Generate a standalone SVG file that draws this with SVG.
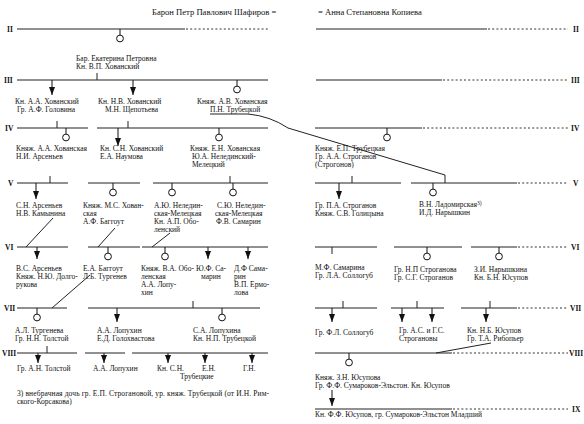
<svg xmlns="http://www.w3.org/2000/svg" xmlns:xlink="http://www.w3.org/1999/xlink" width="584" height="424" viewBox="0 0 584 424">
<style>
text{font-family:"Liberation Serif","DejaVu Serif",serif;font-size:7.5px;fill:#111}
.t{font-size:8.6px}
.g{font-weight:bold;font-size:7.5px}
.s{stroke:#222;stroke-width:1;fill:none}
.d{stroke:#333;stroke-width:1;fill:none;stroke-dasharray:2 2.2}
.a{stroke:#111;stroke-width:1;fill:none;marker-end:url(#ah)}
.c{stroke:#111;stroke-width:1;fill:#fff}
</style>
<defs>
<marker id="ah" markerUnits="userSpaceOnUse" markerWidth="8" markerHeight="6" refX="8" refY="3" orient="auto"><path d="M0,0 L8,3 L0,6 Z" fill="#111"/></marker>
<g id="ci"><line x1="0" y1="0" x2="0" y2="6" stroke="#111"/><circle cx="0" cy="9.5" r="3.4" class="c"/></g>
</defs>
<rect width="584" height="424" fill="#fff"/>

<g id="title">
<text class="t" x="152" y="15">Барон Петр Павлович Шафиров =</text>
<text class="t" x="318" y="15">= Анна Степановна Копиева</text>
</g>

<g id="gen-labels">
<text class="g" x="7" y="32">II</text><text class="g" x="573" y="32">II</text>
<text class="g" x="4" y="83">III</text><text class="g" x="571" y="83">III</text>
<text class="g" x="5" y="131">IV</text><text class="g" x="571" y="131">IV</text>
<text class="g" x="8" y="186">V</text><text class="g" x="573" y="186">V</text>
<text class="g" x="5" y="250">VI</text><text class="g" x="571" y="250">VI</text>
<text class="g" x="4" y="311">VII</text><text class="g" x="570" y="311">VII</text>
<text class="g" x="2" y="356">VIII</text><text class="g" x="569" y="356">VIII</text>
<text class="g" x="572" y="412">IX</text>
</g>

<g id="connectors">
<!-- II -->
<path class="s" d="M17,29 H185 M316,29 H487"/>
<path class="d" d="M186,29 H268 M488,29 H568"/>
<use xlink:href="#ci" x="120" y="29"/>
<!-- III -->
<path class="s" d="M17,80 H268 M316,80 H442 M97,73 V80"/>
<path class="d" d="M443,80 H568"/>
<line class="a" x1="52" y1="80" x2="52" y2="95"/>
<line class="a" x1="133" y1="80" x2="133" y2="95"/>
<use xlink:href="#ci" x="237" y="80"/>
<!-- IV -->
<path class="s" d="M17,128 H88 M57,121 V128 M97,128 H268 M128,121 V128 M315,128 H422"/>
<path class="d" d="M423,128 H568"/>
<use xlink:href="#ci" x="66" y="128"/>
<line class="a" x1="118" y1="128" x2="118" y2="146"/>
<use xlink:href="#ci" x="219" y="128"/>
<use xlink:href="#ci" x="387" y="128"/>
<path class="s" d="M210,114 H248 Q270,116 288,128 L445,175 V183"/>
<!-- V -->
<path class="s" d="M17,183 H68 M50,176 V183 M88,183 H140 M153,183 H268 M230,176 V183 M315,183 H401 M352,176 V183 M411,183 H517"/>
<path class="d" d="M518,183 H568"/>
<line class="a" x1="36" y1="183" x2="36" y2="199"/>
<use xlink:href="#ci" x="113" y="183"/>
<use xlink:href="#ci" x="172" y="183"/>
<use xlink:href="#ci" x="233" y="183"/>
<line class="a" x1="339" y1="183" x2="339" y2="199"/>
<use xlink:href="#ci" x="433" y="183"/>
<!-- VI -->
<path class="s" d="M17,247 H68 M53,218 L26,247 M88,247 H140 M115,228 L98,247 M142,247 H268 M170,233 L152,247 M315,247 H377 M332,247 V254 M394,247 H462 M471,247 H517"/>
<path class="d" d="M518,247 H568"/>
<line class="a" x1="37" y1="247" x2="37" y2="259"/>
<use xlink:href="#ci" x="108" y="247"/>
<use xlink:href="#ci" x="165" y="247"/>
<line class="a" x1="208" y1="247" x2="208" y2="259"/>
<line class="a" x1="248" y1="247" x2="248" y2="259"/>
<use xlink:href="#ci" x="427" y="247"/>
<use xlink:href="#ci" x="499" y="247"/>
<!-- VII -->
<path class="s" d="M17,308 H67 M90,275 L52,308 M88,308 H260 M193,301 V308 M315,308 H377 M343,301 V308 M391,308 H444 M417,301 V308 M461,308 H517 M490,301 V308"/>
<path class="d" d="M518,308 H568"/>
<use xlink:href="#ci" x="37" y="308"/>
<line class="a" x1="117" y1="308" x2="117" y2="322"/>
<use xlink:href="#ci" x="222" y="308"/>
<line class="a" x1="332" y1="308" x2="332" y2="322"/>
<line class="a" x1="402" y1="308" x2="402" y2="322"/>
<line class="a" x1="432" y1="308" x2="432" y2="322"/>
<line class="a" x1="486" y1="308" x2="486" y2="322"/>
<!-- VIII -->
<path class="s" d="M17,353 H77 M47,346 V353 M85,353 H125 M132,353 H268 M315,353 H452 M491,343 L436,353"/>
<path class="d" d="M453,353 H568"/>
<line class="a" x1="38" y1="353" x2="38" y2="363"/>
<line class="a" x1="104" y1="353" x2="104" y2="363"/>
<line class="a" x1="168" y1="353" x2="168" y2="363"/>
<line class="a" x1="205" y1="353" x2="205" y2="363"/>
<line class="a" x1="252" y1="353" x2="252" y2="363"/>
<use xlink:href="#ci" x="349" y="353"/>
<!-- IX -->
<path class="s" d="M315,409 H452"/>
<path class="d" d="M453,409 H568"/>
<line class="a" x1="332" y1="390" x2="332" y2="406"/>
</g>

<g id="p-ekaterina"><text x="76" y="61">Бар. Екатерина Петровна</text><text x="76" y="69">Кн. В.П. Хованский</text></g>
<g id="p-aa-khovansky"><text x="15" y="104">Кн. А.А. Хованский</text><text x="17" y="112">Гр. А.Ф. Головина</text></g>
<g id="p-nv-khovansky"><text x="98" y="104">Кн. Н.В. Хованский</text><text x="105" y="112">М.Н. Щепотьева</text></g>
<g id="p-av-khovanskaya"><text x="197" y="104">Княж. А.В. Хованская</text><text x="210" y="112">П.Н. Трубецкой</text></g>

<g id="p-aa-khovanskaya"><text x="16" y="151">Княж. А.А. Хованская</text><text x="16" y="159">Н.И. Арсеньев</text></g>
<g id="p-sn-khovansky"><text x="100" y="151">Кн. С.Н. Хованский</text><text x="100" y="159">Е.А. Наумова</text></g>
<g id="p-en-khovanskaya"><text x="190" y="151">Княж. Е.Н. Хованская</text><text x="192" y="159">Ю.А. Нелединский-</text><text x="192" y="167">Мелецкий</text></g>
<g id="p-ep-trubetskaya"><text x="315" y="151">Княж. Е.П. Трубецкая</text><text x="315" y="159">Гр. А.А. Строганов</text><text x="315" y="167">(Строгонов)</text></g>

<g id="p-sn-arsenev"><text x="16" y="208">С.Н. Арсеньев</text><text x="16" y="216">Н.В. Камынина</text></g>
<g id="p-ms-khovanskaya"><text x="83" y="208">Княж. М.С. Хован-</text><text x="83" y="216">ская</text><text x="83" y="224">А.Ф. Баггоут</text></g>
<g id="p-ayu-neledinskaya"><text x="154" y="208">А.Ю. Неледин-</text><text x="154" y="216">ская-Мелецкая</text><text x="154" y="224">Кн. А.П. Обо-</text><text x="154" y="232">ленский</text></g>
<g id="p-syu-neledinskaya"><text x="217" y="208">С.Ю. Неледин-</text><text x="215" y="216">ская-Мелецкая</text><text x="216" y="224">Ф.В. Самарин</text></g>
<g id="p-pa-stroganov"><text x="315" y="208">Гр. П.А. Строганов</text><text x="315" y="216">Княж. С.В. Голицына</text></g>
<g id="p-vn-ladomirskaya"><text x="419" y="207">В.Н. Ладомирская<tspan font-size="5.5px" dy="-2.5">3)</tspan></text><text x="419" y="215">И.Д. Нарышкин</text></g>

<g id="p-vs-arsenev"><text x="16" y="271">В.С. Арсеньев</text><text x="16" y="279">Княж. Н.Ю. Долго-</text><text x="16" y="287">рукова</text></g>
<g id="p-ea-baggout"><text x="83" y="271">Е.А. Баггоут</text><text x="83" y="279">Л.Б. Тургенев</text></g>
<g id="p-va-obolenskaya"><text x="141" y="271">Княж. В.А. Обо-</text><text x="141" y="279">ленская</text><text x="141" y="287">А.А. Лопу-</text><text x="141" y="295">хин</text></g>
<g id="p-yuf-samarin"><text x="196" y="271">Ю.Ф. Са-</text><text x="201" y="279">марин</text></g>
<g id="p-df-samarin"><text x="234" y="271">Д.Ф Сама-</text><text x="234" y="279">рин</text><text x="234" y="287">В.П. Ермо-</text><text x="234" y="295">лова</text></g>
<g id="p-mf-samarina"><text x="315" y="270">М.Ф. Самарина</text><text x="315" y="278">Гр. Л.А. Соллогуб</text></g>
<g id="p-np-stroganova"><text x="394" y="272">Гр. Н.П Строганова</text><text x="394" y="280">Гр. С.Г. Строганов</text></g>
<g id="p-zi-naryshkina"><text x="474" y="272">З.И. Нарышкина</text><text x="474" y="280">Кн. Б.Н. Юсупов</text></g>

<g id="p-al-turgeneva"><text x="15" y="333">А.Л. Тургенева</text><text x="15" y="341">Гр. Н.Н. Толстой</text></g>
<g id="p-aa-lopukhin"><text x="97" y="333">А.А. Лопухин</text><text x="97" y="341">Е.Д. Голохвастова</text></g>
<g id="p-sa-lopukhina"><text x="193" y="333">С.А. Лопухина</text><text x="193" y="341">Кн. Н.П. Трубецкой</text></g>
<g id="p-fl-sollogub"><text x="315" y="335">Гр. Ф.Л. Соллогуб</text></g>
<g id="p-as-gs-stroganovy"><text x="399" y="333">Гр. А.С. и Г.С.</text><text x="399" y="341">Строгановы</text></g>
<g id="p-nb-yusupov"><text x="467" y="333">Кн. Н.Б. Юсупов</text><text x="467" y="341">Гр. Т.А. Рибопьер</text></g>

<g id="p-an-tolstoy"><text x="17" y="371">Гр. А.Н. Толстой</text></g>
<g id="p-aa-lopukhin2"><text x="93" y="371">А.А. Лопухин</text></g>
<g id="p-trubetskie"><text x="157" y="371">Кн. С.Н.</text><text x="202" y="371">Е.Н.</text><text x="243" y="371">Г.Н.</text><text x="180" y="379">Трубецкие</text></g>
<g id="p-zn-yusupova"><text x="315" y="380">Княж. З.Н. Юсупова</text><text x="315" y="388">Гр. Ф.Ф. Сумароков-Эльстон. Кн. Юсупов</text></g>
<g id="p-ff-yusupov"><text x="315" y="417">Кн. Ф.Ф. Юсупов, гр. Сумароков-Эльстон Младший</text></g>

<g id="footnote"><text x="17" y="396" textLength="252" lengthAdjust="spacing">3) внебрачная дочь гр. Е.П. Строгановой, ур. княж. Трубецкой (от И.Н. Рим-</text><text x="17" y="404">ского-Корсакова)</text></g>
</svg>
